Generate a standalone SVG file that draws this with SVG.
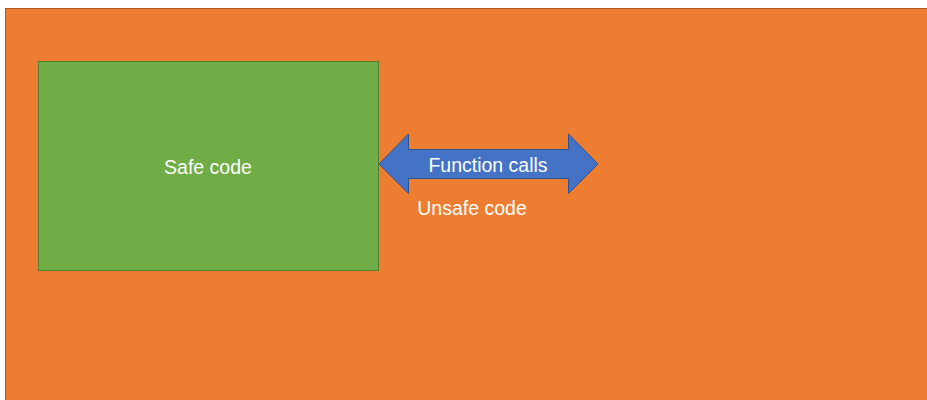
<svg xmlns="http://www.w3.org/2000/svg" width="927" height="400" viewBox="0 0 927 400">
<style>
.t{font-family:"Liberation Sans",Arial,sans-serif;font-size:19.5px;fill:#ffffff;text-anchor:middle}
</style>
<rect width="927" height="400" fill="#ffffff"/>
<g id="unsafe">
<rect x="5.5" y="8.5" width="930" height="400" fill="#ED7D31" stroke="#AE5A21" stroke-width="1"/>
<text class="t" x="472" y="215">Unsafe code</text>
</g>
<g id="safe">
<rect x="38.5" y="61.5" width="340" height="209" fill="#70AD47" stroke="#507E32" stroke-width="1"/>
<text class="t" x="208" y="174">Safe code</text>
</g>
<g id="connectors">
<path d="M379,164 L408.5,134 L408.5,149.5 L568.5,149.5 L568.5,134 L598,164 L568.5,193.5 L568.5,178.5 L408.5,178.5 L408.5,193.5 Z" fill="#4472C4" stroke="#2F528F" stroke-width="1"/>
<text class="t" x="488" y="172">Function calls</text>
</g>
</svg>
